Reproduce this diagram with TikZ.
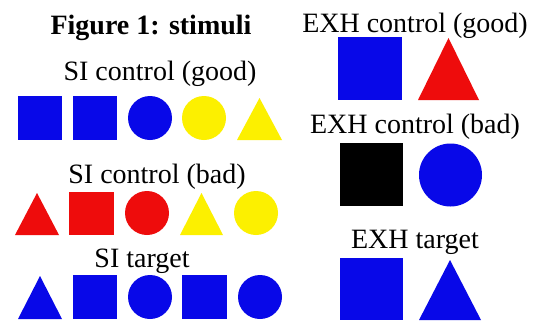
\documentclass[tikz,border=0pt]{standalone}
\usepackage{fontspec}
\setmainfont{Liberation Serif}
\definecolor{sblue}{RGB}{8,8,232}
\definecolor{sred}{RGB}{238,12,12}
\definecolor{syellow}{RGB}{252,240,0}
\begin{document}
\begin{tikzpicture}[x=1pt,y=-1pt,
  lbl/.style={anchor=base,inner sep=0pt,font=\fontsize{28}{32}\selectfont},
  ttl/.style={anchor=base,inner sep=0pt,font=\fontsize{28}{32}\selectfont\bfseries},
  bl/.style={fill=sblue},
  rd/.style={fill=sred},
  yl/.style={fill=syellow},
  bk/.style={fill=black}]
\useasboundingbox[fill=white] (0,0) rectangle (538,322);
% texts
\node[ttl] (title) at (151,34) {Figure 1: stimuli};
\node[lbl] (sigood) at (160,80) {SI control (good)};
\node[lbl] (sibad) at (157,183) {SI control (bad)};
\node[lbl] (sitarget) at (142,267) {SI target};
\node[lbl] (exhgood) at (415,32) {EXH control (good)};
\node[lbl] (exhbad) at (415,133) {EXH control (bad)};
\node[lbl] (exhtarget) at (415,248) {EXH target};
% SI control (good)
\fill[bl] (18,96) rectangle (62,140);
\fill[bl] (73,96) rectangle (117,140);
\fill[bl] (150,118) circle (22);
\fill[yl] (204,118) circle (22);
\fill[yl] (237,140) -- (282,140) -- (259.5,98) -- cycle;
% SI control (bad)
\fill[rd] (15,235) -- (59,235) -- (37,193) -- cycle;
\fill[rd] (69,192) rectangle (114,235);
\fill[rd] (147,213) circle (22);
\fill[yl] (180,235) -- (223,235) -- (201.5,193) -- cycle;
\fill[yl] (256,213) circle (22);
% SI target
\fill[bl] (18,319) -- (62,319) -- (40,276) -- cycle;
\fill[bl] (73,275) rectangle (117,319);
\fill[bl] (150,297) circle (22);
\fill[bl] (182,275) rectangle (227,319);
\fill[bl] (260,297) circle (22);
% EXH control (good)
\fill[bl] (338,37) rectangle (402,100);
\fill[rd] (418,100) -- (479,100) -- (448.5,38) -- cycle;
% EXH control (bad)
\fill[bk] (340,143) rectangle (403,206);
\fill[bl] (450.5,175) circle (31.5);
% EXH target
\fill[bl] (340,258) rectangle (403,320);
\fill[bl] (419,320) -- (481,320) -- (450,260) -- cycle;
\end{tikzpicture}
\end{document}
